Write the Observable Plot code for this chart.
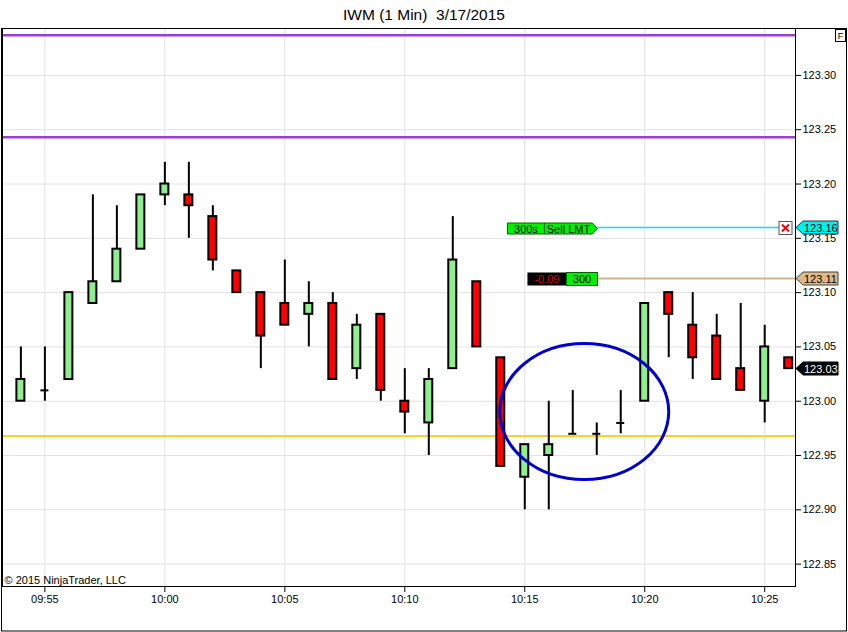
<!DOCTYPE html>
<html><head><meta charset="utf-8">
<script src="https://cdn.jsdelivr.net/npm/d3@7"></script>
<script src="https://cdn.jsdelivr.net/npm/@observablehq/plot@0.6"></script>
<style>
html,body{margin:0;padding:0;background:#fff;}
#chart{width:848px;height:632px;}
</style></head><body><div id="chart"></div>
<script>
// ---- data ----
const title = "IWM (1 Min)  3/17/2015";
const copyright = "\u00A9 2015 NinjaTrader, LLC";
const times  = ["09:54","09:55","09:56","09:57","09:58","09:59","10:00","10:01","10:02","10:03","10:04","10:05","10:06","10:07","10:08","10:09","10:10","10:11","10:12","10:13","10:14","10:15","10:16","10:17","10:18","10:19","10:20","10:21","10:22","10:23","10:24","10:25","10:26"];
const opens  = [123.00,123.01,123.02,123.09,123.11,123.14,123.19,123.19,123.17,123.12,123.10,123.09,123.08,123.09,123.03,123.08,123.00,122.98,123.03,123.11,123.04,122.93,122.95,122.97,122.97,122.98,123.00,123.10,123.07,123.06,123.03,123.00,123.04];
const highs  = [123.05,123.05,123.10,123.19,123.18,123.19,123.22,123.22,123.18,123.12,123.10,123.13,123.11,123.10,123.08,123.08,123.03,123.03,123.17,123.11,123.04,122.96,123.00,123.01,122.98,123.01,123.09,123.10,123.10,123.08,123.09,123.07,123.04];
const lows   = [123.00,123.00,123.02,123.09,123.11,123.14,123.18,123.15,123.12,123.10,123.03,123.07,123.05,123.02,123.02,123.00,122.97,122.95,123.03,123.05,122.94,122.90,122.90,122.97,122.95,122.97,123.00,123.04,123.02,123.02,123.01,122.98,123.03];
const closes = [123.02,123.01,123.10,123.11,123.14,123.19,123.20,123.18,123.13,123.10,123.06,123.07,123.09,123.02,123.07,123.01,122.99,123.02,123.13,123.05,122.94,122.96,122.96,122.97,122.97,122.98,123.09,123.08,123.04,123.02,123.01,123.05,123.03];

const xTickLabels = ["09:55","10:00","10:05","10:10","10:15","10:20","10:25"];
const yTickValues = [122.85,122.90,122.95,123.00,123.05,123.10,123.15,123.20,123.25,123.30];
const xDomainLabels = ["09:53:14","10:26:17"];
const yDomain = [122.8294, 123.3432];

const purpleLevels = [123.337, 123.243];
const goldLevels = [122.968];

const sellOrderPrice = 123.16;     // cyan order line
const positionPrice = 123.113;     // tan position line
const lastPrice = 123.03;
const orderTagTime = "10:18:03";
const sellTagLeft = ["300s", "Sell LMT"];
const positionTag = ["-0.09", "300"];

const ellipseCenter = {time: "10:17:30", price: 122.990};
const ellipseHalfMinutes = 3.52;
const ellipseHalfPrice = 0.0626;

// ---- build ----
const parseT = s => { const p = s.split(":").map(Number); return new Date(Date.UTC(2015,2,17,p[0],p[1],p[2]||0)); };
const bars = times.map((t,i)=>({t: parseT(t), o: opens[i], h: highs[i], l: lows[i], c: closes[i]}));
const up = bars.filter(d=>d.c>d.o), down = bars.filter(d=>d.c<d.o), doji = bars.filter(d=>d.c===d.o);
const HALF = 10000; // ms, half body width
const lo = d => new Date(+d.t - HALF), hi = d => new Date(+d.t + HALF);
const xTicks = xTickLabels.map(parseT);
const FONT = "Liberation Sans, Arial, sans-serif";

const orderMark = (index, {x, y}, values, dims) => {
  const g = d3.create("svg:g").attr("font-family", FONT).attr("font-size", 11);
  const right = dims.width - dims.marginRight;
  const xe = x(parseT(orderTagTime));
  // cyan sell order line
  const yc = Math.round(y(sellOrderPrice)) + 0.5;
  g.append("line").attr("x1", xe).attr("x2", right - 16).attr("y1", yc).attr("y2", yc).attr("stroke", "#00e5ff").attr("stroke-width", 1.5);
  g.append("path").attr("d", `M${xe-90},${yc-4.5}H${xe-5}L${xe},${yc+1}L${xe-5},${yc+6.5}H${xe-90}Z`).attr("fill", "#00f000").attr("stroke", "#006400");
  g.append("line").attr("x1", xe-53).attr("x2", xe-53).attr("y1", yc-4.5).attr("y2", yc+6.5).attr("stroke", "#006400");
  g.append("text").attr("x", xe-71.5).attr("y", yc+5.5).attr("text-anchor", "middle").text(sellTagLeft[0]);
  g.append("text").attr("x", xe-29).attr("y", yc+5.5).attr("text-anchor", "middle").text(sellTagLeft[1]);
  // cancel box
  const bx = right - 16;
  g.append("rect").attr("x", bx).attr("y", yc-6).attr("width", 13).attr("height", 13).attr("fill", "#fff").attr("stroke", "#555");
  g.append("path").attr("d", `M${bx+3},${yc-3}L${bx+10},${yc+4}M${bx+10},${yc-3}L${bx+3},${yc+4}`).attr("stroke", "#ee0000").attr("stroke-width", 2);
  // tan position line
  const yp = Math.round(y(positionPrice)) + 0.5;
  g.append("line").attr("x1", xe).attr("x2", right).attr("y1", yp).attr("y2", yp).attr("stroke", "#d2b48c").attr("stroke-width", 2);
  g.append("rect").attr("x", xe-70).attr("y", yp-6).attr("width", 39).attr("height", 13).attr("fill", "#000");
  g.append("rect").attr("x", xe-31).attr("y", yp-6).attr("width", 31).attr("height", 13).attr("fill", "#00f000").attr("stroke", "#006400");
  g.append("text").attr("x", xe-50.5).attr("y", yp+4.5).attr("text-anchor", "middle").attr("fill", "#e00000").text(positionTag[0]);
  g.append("text").attr("x", xe-15.5).attr("y", yp+4.5).attr("text-anchor", "middle").text(positionTag[1]);
  return g.node();
};

const ellipseMark = (index, {x, y}) => {
  const t = parseT(ellipseCenter.time);
  const cx = x(t), cy = y(ellipseCenter.price);
  const rx = x(new Date(+t + ellipseHalfMinutes*60000)) - cx;
  const ry = cy - y(ellipseCenter.price + ellipseHalfPrice);
  return d3.create("svg:ellipse").attr("cx", cx).attr("cy", cy).attr("rx", rx).attr("ry", ry)
    .attr("fill", "none").attr("stroke", "#0000cc").attr("stroke-width", 3).node();
};

const markerMark = (index, {y}, values, dims) => {
  const g = d3.create("svg:g").attr("font-family", FONT).attr("font-size", 11);
  const r = dims.width - dims.marginRight;
  const items = [
    {p: sellOrderPrice, fill: "#00f0f0", stroke: "#333", text: "#000"},
    {p: positionPrice, fill: "#deb887", stroke: "#444", text: "#000"},
    {p: lastPrice, fill: "#000", stroke: "#000", text: "#fff"}
  ];
  for (const it of items) {
    const yy = Math.round(y(it.p)) + 0.5;
    g.append("path").attr("d", `M${r+1},${yy}L${r+8},${yy-6.5}H${r+43}V${yy+6.5}H${r+8}Z`).attr("fill", it.fill).attr("stroke", it.stroke);
    g.append("text").attr("x", r+9).attr("y", yy+4).attr("text-anchor", "start").attr("fill", it.text).text(it.p.toFixed(2));
  }
  return g.node();
};

const chromeMark = (index, scales, values, dims) => {
  const g = d3.create("svg:g").attr("font-family", FONT);
  g.append("rect").attr("x", 1.5).attr("y", dims.marginTop + 0.5).attr("width", dims.width - 3).attr("height", dims.height - dims.marginTop - 1.5)
    .attr("fill", "none").attr("stroke", "#000");
  g.append("text").attr("x", dims.width/2).attr("y", 20).attr("text-anchor", "middle").attr("font-size", 15.5).attr("fill", "#000").text(title);
  g.append("rect").attr("x", dims.width - 12.5).attr("y", dims.marginTop + 1.5).attr("width", 10).attr("height", 12).attr("fill", "#fff").attr("stroke", "#000");
  g.append("text").attr("x", dims.width - 7.5).attr("y", dims.marginTop + 11).attr("text-anchor", "middle").attr("font-size", 9).text("F");
  return g.node();
};

const chart = Plot.plot({
  width: 848, height: 632,
  marginLeft: 2, marginRight: 53, marginTop: 28, marginBottom: 46,
  style: {fontFamily: FONT, fontSize: "11px", background: "#fff", color: "#000"},
  x: {type: "utc", domain: xDomainLabels.map(parseT)},
  y: {domain: yDomain},
  marks: [
    Plot.gridY(yTickValues, {stroke: "#e2e2e2", strokeOpacity: 1}),
    Plot.gridX(xTicks, {stroke: "#e2e2e2", strokeOpacity: 1}),
    Plot.ruleY(purpleLevels, {stroke: "#9b3fd4", strokeWidth: 2.5}),
    Plot.ruleY(goldLevels, {stroke: "#ffd21f", strokeWidth: 2}),
    orderMark,
    Plot.ruleX(bars, {x: "t", y1: "l", y2: "h", stroke: "#000", strokeWidth: 2}),
    Plot.rect(up, {x1: lo, x2: hi, y1: "o", y2: "c", fill: "#90ee90", stroke: "#000", strokeWidth: 2}),
    Plot.rect(down, {x1: lo, x2: hi, y1: "o", y2: "c", fill: "#ff0000", stroke: "#000", strokeWidth: 2}),
    Plot.ruleY(doji, {y: "o", x1: lo, x2: hi, stroke: "#000", strokeWidth: 2}),
    ellipseMark,
    Plot.frame({stroke: "#000"}),
    Plot.axisY({anchor: "right", ticks: yTickValues, tickFormat: d => d.toFixed(2), tickSize: 5, tickPadding: 2, label: null, fill: "#000"}),
    Plot.axisX({ticks: xTicks, tickFormat: d3.utcFormat("%H:%M"), tickSize: 6, tickPadding: 3, label: null, fill: "#000"}),
    markerMark,
    Plot.text([copyright], {frameAnchor: "bottom-left", text: d => d, dx: 2, dy: -3, textAnchor: "start", lineAnchor: "bottom", fontSize: 11, fill: "#000"}),
    chromeMark
  ]
});
document.getElementById("chart").appendChild(chart);
</script>
</body></html>
